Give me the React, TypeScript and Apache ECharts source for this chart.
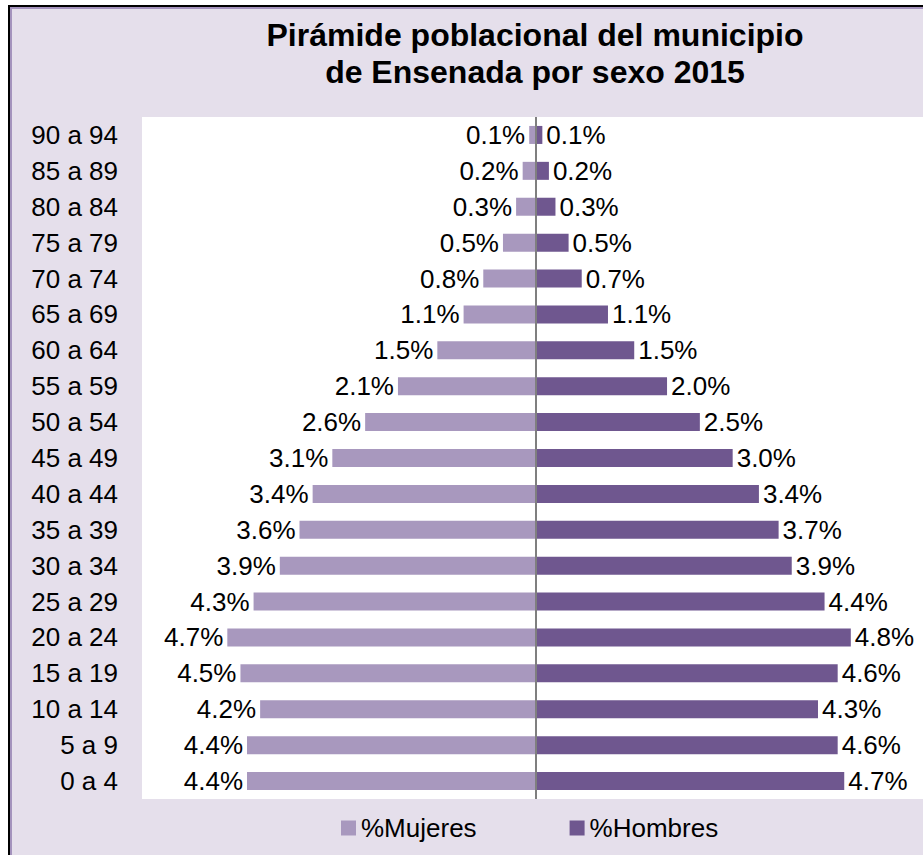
import React, { useEffect, useRef } from "react";
import * as echarts from "echarts";

const categories = [
  "0 a 4", "5 a 9", "10 a 14", "15 a 19", "20 a 24", "25 a 29", "30 a 34",
  "35 a 39", "40 a 44", "45 a 49", "50 a 54", "55 a 59", "60 a 64", "65 a 69",
  "70 a 74", "75 a 79", "80 a 84", "85 a 89", "90 a 94",
];
const mujeres = [4.4, 4.4, 4.2, 4.5, 4.7, 4.3, 3.9, 3.6, 3.4, 3.1, 2.6, 2.1, 1.5, 1.1, 0.8, 0.5, 0.3, 0.2, 0.1];
const hombres = [4.7, 4.6, 4.3, 4.6, 4.8, 4.4, 3.9, 3.7, 3.4, 3.0, 2.5, 2.0, 1.5, 1.1, 0.7, 0.5, 0.3, 0.2, 0.1];
const titleText = "Pirámide poblacional del municipio\nde Ensenada por sexo 2015";

const FONT = "'Liberation Sans', Arial, sans-serif";
const C_MUJ = "#a898be";
const C_HOM = "#6f578f";

export default function App() {
  const ref = useRef<HTMLDivElement>(null);
  useEffect(() => {
    if (!ref.current) return;
    const chart = echarts.init(ref.current, undefined, { renderer: "svg" });
    const labelStyle = { fontSize: 26, color: "#000", fontFamily: FONT };
    chart.setOption({
      animation: false,
      backgroundColor: "transparent",
      textStyle: { fontFamily: FONT },
      graphic: [
        {
          type: "text",
          x: 535,
          y: 53,
          style: {
            text: titleText,
            textAlign: "center",
            textVerticalAlign: "middle",
            font: `bold 32px ${FONT}`,
            lineHeight: 37,
            fill: "#000",
          },
        },
      ],
      legend: {
        left: 341,
        top: 815,
        padding: 0,
        itemWidth: 15,
        itemHeight: 15,
        itemGap: 93,
        icon: "rect",
        textStyle: { fontSize: 26, color: "#000", fontFamily: FONT },
        data: ["%Mujeres", "%Hombres"],
      },
      grid: {
        left: 142,
        right: 0,
        top: 117,
        bottom: 56,
        show: true,
        backgroundColor: "#ffffff",
        borderWidth: 0,
      },
      xAxis: {
        type: "value",
        min: -6,
        max: 5.9,
        show: false,
      },
      yAxis: {
        type: "category",
        data: categories,
        axisLine: { show: false },
        axisTick: { show: false },
        axisLabel: { ...labelStyle, margin: 24 },
      },
      series: [
        {
          name: "%Mujeres",
          type: "bar",
          stack: "total",
          barWidth: 18,
          itemStyle: { color: C_MUJ },
          data: mujeres.map((v) => -v),
          label: {
            show: true,
            position: "left",
            distance: 4,
            ...labelStyle,
            formatter: (p: any) => Math.abs(p.value).toFixed(1) + "%",
          },
          markLine: {
            silent: true,
            symbol: "none",
            label: { show: false },
            lineStyle: { color: "#7f7f7f", width: 2, type: "solid" },
            data: [{ xAxis: 0 }],
          },
        },
        {
          name: "%Hombres",
          type: "bar",
          stack: "total",
          barWidth: 18,
          itemStyle: { color: C_HOM },
          data: hombres,
          label: {
            show: true,
            position: "right",
            distance: 4,
            ...labelStyle,
            formatter: (p: any) => p.value.toFixed(1) + "%",
          },
        },
      ],
    });
    return () => chart.dispose();
  }, []);

  return (
    <div style={{ position: "absolute", left: 0, top: 0, width: 923, height: 855, background: "#fff", overflow: "hidden" }}>
      <div style={{ position: "absolute", left: 8, top: 5, width: 930, height: 860, background: "#000" }} />
      <div style={{ position: "absolute", left: 10, top: 7, width: 930, height: 860, background: "#a493bd" }} />
      <div style={{ position: "absolute", left: 12, top: 9, width: 930, height: 860, background: "#e5dfeb" }} />
      <div ref={ref} style={{ position: "absolute", left: 0, top: 0, width: 923, height: 855 }} />
    </div>
  );
}
